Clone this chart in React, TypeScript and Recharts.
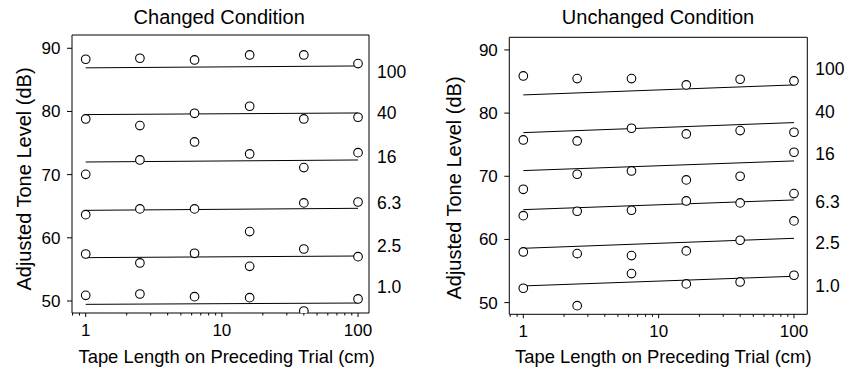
import { ReferenceLine, Scatter, ScatterChart, XAxis, YAxis } from "recharts";

// tape length on the preceding trial (cm), shared by both panels
const TAPE_LENGTHS = [1, 2.5, 6.3, 16, 40, 100];
const CONDITION_LABELS = ["100", "40", "16", "6.3", "2.5", "1.0"];

const Y_TICKS = [50, 60, 70, 80, 90];
const X_TICKS = [0.8, 0.9, 1, 2, 3, 4, 5, 6, 7, 8, 9, 10, 20, 30, 40, 50, 60, 70, 80, 90, 100];
const X_MAJOR = [1, 10, 100];

// Changed condition
const CHANGED_100 = [88.26, 88.42, 88.15, 88.94, 88.94, 87.57];
const CHANGED_40 = [78.81, 77.76, 79.71, 80.82, 78.81, 79.08];
const CHANGED_16 = [70.05, 72.32, 75.17, 73.27, 71.11, 73.48];
const CHANGED_6_3 = [63.67, 64.57, 64.57, 60.99, 65.52, 65.67];
const CHANGED_2_5 = [57.44, 56.02, 57.55, 55.49, 58.23, 57.02];
const CHANGED_1_0 = [50.9, 51.11, 50.69, 50.53, 48.42, 50.32];
const CHANGED_FIT_AT_1 = [86.9, 79.5, 72.0, 64.35, 56.86, 49.47];
const CHANGED_FIT_AT_100 = [87.2, 79.76, 72.32, 64.67, 57.12, 49.68];
const CHANGED_LABEL_DB = [86.2, 79.75, 72.8, 65.5, 58.7, 52.2];

// Unchanged condition
const UNCHANGED_100 = [85.88, 85.46, 85.46, 84.46, 85.36, 85.09];
const UNCHANGED_40 = [75.75, 75.59, 77.6, 76.7, 77.23, 76.97];
const UNCHANGED_16 = [67.94, 70.32, 70.84, 69.42, 70.0, 73.8];
const UNCHANGED_6_3 = [63.77, 64.46, 64.62, 66.09, 65.78, 67.26];
const UNCHANGED_2_5 = [58.02, 57.76, 57.44, 58.18, 59.87, 62.93];
const UNCHANGED_1_0 = [52.27, 49.52, 54.59, 52.96, 53.27, 54.33];
const UNCHANGED_FIT_AT_1 = [82.88, 76.91, 70.9, 64.72, 58.6, 52.64];
const UNCHANGED_FIT_AT_100 = [84.46, 78.5, 72.43, 66.25, 60.18, 54.17];
const UNCHANGED_LABEL_DB = [86.98, 80.17, 73.53, 65.93, 59.44, 52.63];

const FONT = '"Liberation Sans", Arial, Helvetica, sans-serif';

function LogTick(props: any) {
  const { x, y, payload } = props;
  const major = X_MAJOR.includes(payload.value);
  return (
    <g>
      <line x1={x} x2={x} y1={y} y2={y + (major ? 4 : 2.5)} stroke="#000" strokeWidth={1} />
      {major && (
        <text x={x} y={y + 10.6} dy="0.71em" textAnchor="middle" fontSize={17} fill="#000">
          {payload.value}
        </text>
      )}
    </g>
  );
}

function OpenCircle(props: any) {
  return <circle cx={props.cx} cy={props.cy} r={4.3} fill="#fff" stroke="#000" strokeWidth={1.1} />;
}

interface PanelProps {
  series: number[][];
  fitStart: number[];
  fitEnd: number[];
  labelDb: number[];
  xDomain: [number, number];
  yDomain: [number, number];
  leftWidth: number;
  rightWidth: number;
  top: number;
  bottom: number;
}

function Panel({ series, fitStart, fitEnd, labelDb, xDomain, yDomain, leftWidth, rightWidth, top, bottom }: PanelProps) {
  return (
    <ScatterChart width={425} height={372} margin={{ top, right: 0, bottom: 0, left: 0 }}>
      <XAxis
        xAxisId="b"
        dataKey="x"
        type="number"
        scale="log"
        domain={xDomain}
        allowDataOverflow
        ticks={X_TICKS}
        interval={0}
        tickSize={0}
        tickMargin={0}
        tickLine={false}
        tick={<LogTick />}
        height={bottom}
        axisLine={{ stroke: "#000" }}
      />
      <YAxis
        yAxisId="l"
        dataKey="y"
        type="number"
        domain={yDomain}
        allowDataOverflow
        ticks={Y_TICKS}
        interval={0}
        width={leftWidth}
        tickSize={5}
        tickMargin={6.5}
        tick={{ fontSize: 17, fill: "#000" }}
        tickLine={{ stroke: "#000" }}
        axisLine={{ stroke: "#000" }}
      />
      <YAxis
        yAxisId="r"
        orientation="right"
        type="number"
        domain={yDomain}
        allowDataOverflow
        ticks={labelDb}
        interval={0}
        width={rightWidth}
        tickSize={0}
        tickMargin={8}
        tickLine={false}
        tick={{ fontSize: 17.5, fill: "#000" }}
        tickFormatter={(v: number) => CONDITION_LABELS[labelDb.indexOf(v)] ?? ""}
        axisLine={{ stroke: "#000" }}
      />
      {/* top edge of the plot frame */}
      <ReferenceLine xAxisId="b" yAxisId="l" y={yDomain[1]} stroke="#000" strokeWidth={1} />
      {fitStart.map((a, i) => (
        <ReferenceLine
          key={`fit-${i}`}
          xAxisId="b"
          yAxisId="l"
          segment={[
            { x: 1, y: a },
            { x: 100, y: fitEnd[i] },
          ]}
          stroke="#000"
          strokeWidth={1}
        />
      ))}
      {series.map((values, i) => (
        <Scatter
          key={`s-${i}`}
          xAxisId="b"
          yAxisId="l"
          data={TAPE_LENGTHS.map((x, j) => ({ x, y: values[j] }))}
          shape={<OpenCircle />}
          isAnimationActive={false}
        />
      ))}
    </ScatterChart>
  );
}

export default function App() {
  return (
    <div style={{ position: "absolute", left: 0, top: 0, width: 849, height: 372, fontFamily: FONT, background: "#fff" }}>
      <div style={{ position: "absolute", left: 0, top: 0 }}>
        <Panel
          series={[CHANGED_100, CHANGED_40, CHANGED_16, CHANGED_6_3, CHANGED_2_5, CHANGED_1_0]}
          fitStart={CHANGED_FIT_AT_1}
          fitEnd={CHANGED_FIT_AT_100}
          labelDb={CHANGED_LABEL_DB}
          xDomain={[0.793, 120.4]}
          yDomain={[48.1, 92.1]}
          leftWidth={72}
          rightWidth={56}
          top={35}
          bottom={59}
        />
      </div>
      <div style={{ position: "absolute", left: 424, top: 0 }}>
        <Panel
          series={[UNCHANGED_100, UNCHANGED_40, UNCHANGED_16, UNCHANGED_6_3, UNCHANGED_2_5, UNCHANGED_1_0]}
          fitStart={UNCHANGED_FIT_AT_1}
          fitEnd={UNCHANGED_FIT_AT_100}
          labelDb={UNCHANGED_LABEL_DB}
          xDomain={[0.788, 125.4]}
          yDomain={[48.15, 92.0]}
          leftWidth={85.3}
          rightWidth={41.7}
          top={37.3}
          bottom={57.7}
        />
      </div>
      <svg width={849} height={372} style={{ position: "absolute", left: 0, top: 0, pointerEvents: "none" }}>
        <g fill="#000" fontFamily={FONT}>
          <text x={219.2} y={24} fontSize={20} textAnchor="middle">Changed Condition</text>
          <text x={658} y={24} fontSize={20} textAnchor="middle">Unchanged Condition</text>
          <text x={226.7} y={363} fontSize={18.4} textAnchor="middle">Tape Length on Preceding Trial (cm)</text>
          <text x={663.3} y={363} fontSize={18.4} textAnchor="middle">Tape Length on Preceding Trial (cm)</text>
          <text transform="translate(31,179) rotate(-90)" fontSize={20} textAnchor="middle">Adjusted Tone Level (dB)</text>
          <text transform="translate(460.5,188) rotate(-90)" fontSize={20} textAnchor="middle">Adjusted Tone Level (dB)</text>
        </g>
      </svg>
    </div>
  );
}
